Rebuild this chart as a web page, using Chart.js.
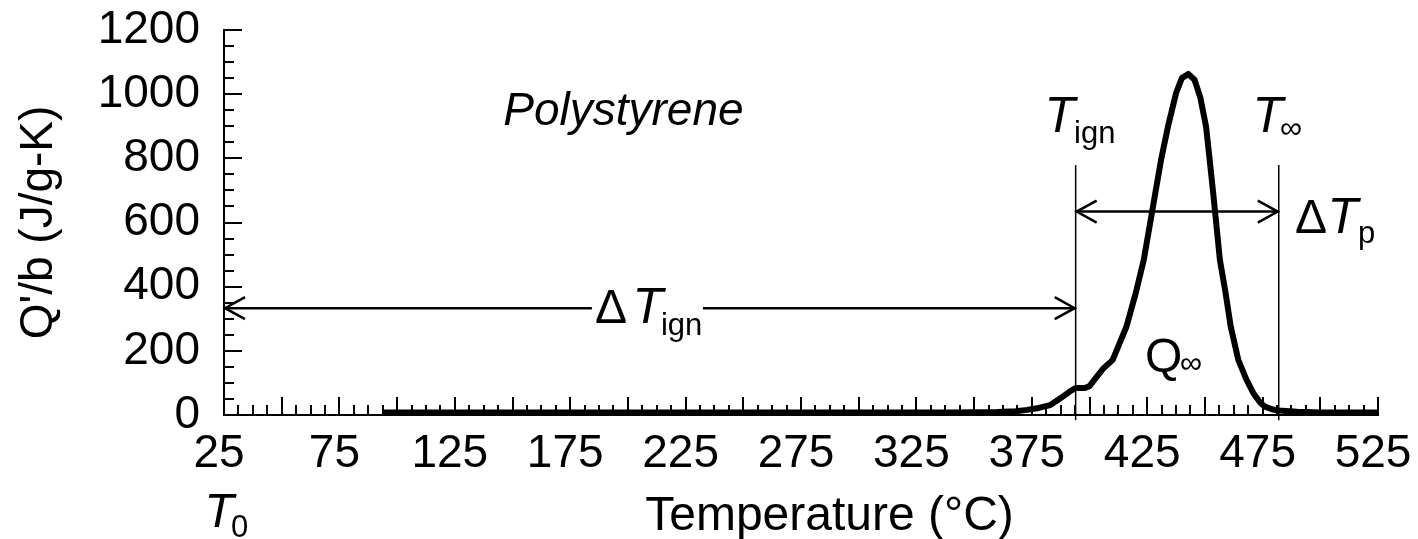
<!DOCTYPE html>
<html>
<head>
<meta charset="utf-8">
<style>
  html, body { margin: 0; padding: 0; background: #ffffff; }
  #wrap { width: 1418px; height: 539px; }
</style>
<script src="https://cdn.jsdelivr.net/npm/chart.js@4.4.1/dist/chart.umd.min.js"></script>
</head>
<body>
<div id="wrap"><canvas id="c" width="1418" height="539"></canvas></div>
<script>
// Heat release rate of polystyrene vs. temperature
const tempC = [94, 150, 200, 250, 300, 340, 360, 368, 373, 378,
               383, 388, 392, 394, 398, 400, 403, 406, 410, 416,
               420, 423.5, 426, 428.5, 431, 434, 437.5, 440, 442.8, 445.5,
               448, 450.5, 452, 453.6, 456.5, 459, 461.2, 464.5, 468, 471,
               474, 476, 479, 482, 490, 500, 525];
const heatRelease = [8, 8, 8, 8, 8, 8, 9, 12, 16, 22,
                     31, 55, 76, 84, 84, 90, 118, 145, 171, 275,
                     379, 483, 587, 691, 795, 899, 1003, 1050, 1063, 1045,
                     990, 899, 800, 691, 483, 379, 275, 171, 110, 68,
                     38, 26, 18, 14, 10, 8, 8];

const xTickLabels = [25, 75, 125, 175, 225, 275, 325, 375, 425, 475, 525];
const yTickLabels = [0, 200, 400, 600, 800, 1000, 1200];

// Characteristic temperatures and arrow heights
const T_START = 25;
const T_IGN = 394;
const T_INF = 482;
const Q_ARROW_IGN = 333;
const Q_ARROW_P = 634;
const Q_MARK_TOP = 779;
const Q_MARK_BOTTOM = -16;

const FONT = '"Liberation Sans", Arial, Helvetica, sans-serif';

// Inward tick marks, reference lines, arrows and labels
const decorations = {
  id: 'decorations',
  afterDraw(chart) {
    const ctx = chart.ctx;
    const xs = chart.scales.x, ys = chart.scales.y;
    const px = v => xs.getPixelForValue(v);
    const py = v => ys.getPixelForValue(v);
    const y0 = ys.bottom, x0 = xs.left;
    ctx.save();
    ctx.strokeStyle = '#000';
    ctx.lineCap = 'butt';

    // y-axis ticks: major every 200, minor every 50
    ctx.lineWidth = 2;
    for (let v = 0; v <= 1200; v += 50) {
      const len = (v % 200 === 0) ? 18 : 10;
      const y = Math.round(py(v));
      ctx.beginPath(); ctx.moveTo(x0, y); ctx.lineTo(x0 + len, y); ctx.stroke();
    }
    // x-axis ticks: major every 25, minor every 6.25
    for (let v = 25; v <= 525.01; v += 6.25) {
      const major = Math.abs((v - 25) % 25) < 1e-6;
      const len = major ? 18 : 10;
      const x = Math.round(px(v));
      ctx.beginPath(); ctx.moveTo(x, y0); ctx.lineTo(x, y0 - len); ctx.stroke();
    }

    // vertical markers at ignition and burnout temperatures
    ctx.lineWidth = 1.5;
    [T_IGN, T_INF].forEach(t => {
      const x = px(t);
      ctx.beginPath(); ctx.moveTo(x, py(Q_MARK_TOP)); ctx.lineTo(x, py(Q_MARK_BOTTOM)); ctx.stroke();
    });

    // double-headed arrows
    function arrow(t1, t2, q) {
      const xa = px(t1), xb = px(t2), y = py(q);
      ctx.lineWidth = 2.5;
      ctx.beginPath(); ctx.moveTo(xa, y); ctx.lineTo(xb, y); ctx.stroke();
      ctx.beginPath();
      ctx.moveTo(xa + 21, y - 11); ctx.lineTo(xa + 1, y); ctx.lineTo(xa + 21, y + 11);
      ctx.moveTo(xb - 21, y - 11); ctx.lineTo(xb - 1, y); ctx.lineTo(xb - 21, y + 11);
      ctx.stroke();
    }
    arrow(T_START, T_IGN, Q_ARROW_IGN);
    arrow(T_IGN, T_INF, Q_ARROW_P);

    // text helper: left aligned on the alphabetic baseline
    ctx.fillStyle = '#000';
    ctx.textAlign = 'left';
    ctx.textBaseline = 'alphabetic';
    function text(str, t, q, size, italic) {
      ctx.font = (italic ? 'italic ' : '') + size + 'px ' + FONT;
      ctx.fillText(str, px(t), py(q));
    }

    // white backing behind the ignition-delay label
    const yA = py(Q_ARROW_IGN);
    ctx.fillStyle = '#fff';
    ctx.fillRect(px(184.4), yA - 4, px(232.5) - px(184.4), 8);
    ctx.fillStyle = '#000';

    text('Polystyrene', 146, 904, 46, true);

    text('\u0394', 185.7, 287, 48, false);
    text('T', 202.0, 287, 50, true);
    text('ign', 214.3, 249, 31, false);

    text('T', 380.5, 882, 50, true);
    text('ign', 393.3, 848, 31, false);

    text('T', 470.6, 882, 50, true);
    text('\u221E', 482.5, 864, 31, false);

    text('\u0394', 489.0, 567, 48, false);
    text('T', 503.1, 567, 50, true);
    text('p', 516.3, 536, 31, false);

    text('Q', 424.0, 134, 48, false);
    text('\u221E', 439.2, 131, 31, false);

    text('T', 16.5, -349, 48, true);
    text('0', 28.0, -380, 31, false);

    // x-axis title
    ctx.font = '48px ' + FONT;
    ctx.fillText('Temperature (\u00B0C)', px(207.5), xs.bottom - 9);

    ctx.restore();
  }
};

const points = tempC.map((t, i) => ({ x: t, y: heatRelease[i] }));

new Chart(document.getElementById('c'), {
  type: 'line',
  data: {
    datasets: [{
      data: points,
      borderColor: '#000',
      borderWidth: 6,
      pointRadius: 0,
      tension: 0,
      borderJoinStyle: 'round',
      fill: false,
      clip: false
    }]
  },
  options: {
    responsive: false,
    animation: false,
    devicePixelRatio: 1,
    layout: { padding: { top: 30, right: 40, bottom: 0, left: 0 } },
    plugins: { legend: { display: false }, tooltip: { enabled: false } },
    scales: {
      x: {
        type: 'linear',
        min: 25, max: 525,
        afterBuildTicks: s => { s.ticks = xTickLabels.map(v => ({ value: v })); },
        afterFit: s => { s.height = 124; s.paddingLeft = 0; s.paddingRight = 0; },
        grid: { display: false, drawTicks: false },
        border: { display: true, color: '#000', width: 2 },
        ticks: {
          color: '#000', padding: 12, maxRotation: 0, autoSkip: false,
          labelOffset: -5,
          callback: v => String(v),
          font: { family: FONT, size: 46 }
        }
      },
      y: {
        type: 'linear',
        min: 0, max: 1200,
        afterBuildTicks: s => { s.ticks = yTickLabels.map(v => ({ value: v })); },
        afterFit: s => { s.width = 224; s.paddingTop = 0; s.paddingBottom = 0; },
        grid: { display: false, drawTicks: false },
        border: { display: true, color: '#000', width: 2 },
        ticks: {
          color: '#000', padding: 24,
          callback: v => String(v),
          font: { family: FONT, size: 46 }
        },
        title: {
          display: true,
          text: "Q'/b (J/g-K)",
          color: '#000',
          padding: { top: 12, bottom: 0 },
          font: { family: FONT, size: 46 }
        }
      }
    }
  },
  plugins: [decorations]
});
</script>
</body>
</html>
